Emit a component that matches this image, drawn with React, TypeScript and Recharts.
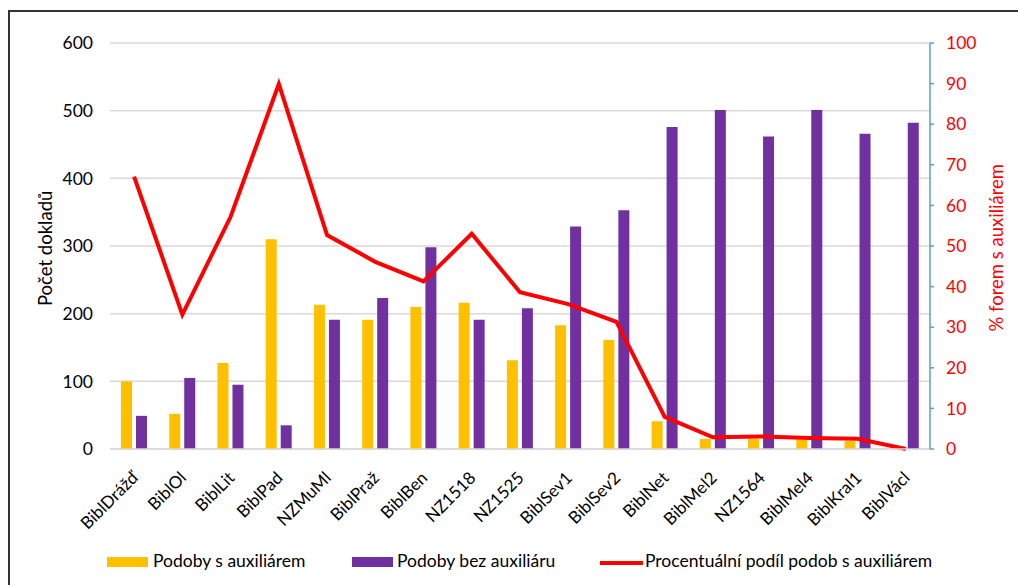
import React from "react";
import {
  ComposedChart,
  Bar,
  Line,
  XAxis,
  YAxis,
  CartesianGrid,
} from "recharts";

const categories = [
  "BiblDrážď", "BiblOl", "BiblLit", "BiblPad", "NZMuMl", "BiblPraž", "BiblBen",
  "NZ1518", "NZ1525", "BiblSev1", "BiblSev2", "BiblNet", "BiblMel2", "NZ1564",
  "BiblMel4", "BiblKral1", "BiblVácl",
];
const withAux = [100, 52, 127, 310, 213, 191, 210, 216, 131, 183, 161, 41, 15, 15, 14, 12, 0];
const withoutAux = [49, 105, 95, 35, 191, 223, 298, 191, 208, 329, 353, 476, 501, 462, 501, 466, 482];
const percent = [67.1, 33.1, 57.2, 89.9, 52.7, 46.1, 41.3, 53.0, 38.6, 35.7, 31.3, 7.9, 2.9, 3.1, 2.7, 2.5, 0];

const leftTicks = [0, 100, 200, 300, 400, 500, 600];
const rightTicks = [0, 10, 20, 30, 40, 50, 60, 70, 80, 90, 100];

const seriesNames = [
  "Podoby s auxiliárem",
  "Podoby bez auxiliáru",
  "Procentuální podíl podob s auxiliárem",
];

const YELLOW = "#FFC000";
const PURPLE = "#7030A0";
const RED = "#FF0000";
const FONT = "Lato, 'Open Sans', sans-serif";

const data = categories.map((c, i) => ({
  name: c,
  withAux: withAux[i],
  withoutAux: withoutAux[i],
  percent: percent[i],
}));

const XTick = (props: any) => {
  const { x, y, payload } = props;
  const ax = x + 5;
  const ay = y + 22;
  return (
    <text
      x={ax}
      y={ay}
      transform={`rotate(-45, ${ax}, ${ay})`}
      textAnchor="end"
      fontSize={17}
      fontFamily={FONT}
      fill="#000"
    >
      {payload.value}
    </text>
  );
};

export default function App() {
  return (
    <div style={{ position: "absolute", left: 0, top: 0, width: 1018, height: 585, background: "#fff", overflow: "hidden" }}>
      <div style={{ position: "absolute", left: 8, top: 10, width: 1010, height: 0, borderTop: "2px solid #333" }} />
      <div style={{ position: "absolute", left: 8, top: 10, width: 0, height: 575, borderLeft: "2px solid #333" }} />
      <div style={{ position: "absolute", left: 0, top: 0 }}>
        <ComposedChart
          width={1018}
          height={585}
          data={data}
          margin={{ top: 43, right: 28, bottom: 36, left: 50 }}
        >
          <CartesianGrid yAxisId="left" vertical={false} stroke="#d9d9d9" strokeWidth={1.5} />
          <XAxis
            dataKey="name"
            interval={0}
            height={100}
            tickLine={false}
            axisLine={{ stroke: "#d9d9d9", strokeWidth: 1.5 }}
            tick={<XTick />}
          />
          <YAxis
            yAxisId="left"
            orientation="left"
            width={60}
            domain={[0, 600]}
            ticks={leftTicks}
            interval={0}
            axisLine={false}
            tickLine={false}
            tickSize={6}
            tickMargin={11}
            tick={{ fill: "#000", fontSize: 17.5, fontFamily: FONT }}
            label={{
              value: "Počet dokladů",
              angle: -90,
              position: "insideLeft",
              dx: -10,
              dy: 60,
              style: { fill: "#000", fontSize: 18.5, fontFamily: FONT },
            }}
          />
          <YAxis
            yAxisId="right"
            orientation="right"
            width={60}
            domain={[0, 100]}
            ticks={rightTicks}
            interval={0}
            axisLine={{ stroke: "#5B9BD5", strokeWidth: 1.5 }}
            tickLine={{ stroke: "#5B9BD5", strokeWidth: 1.5 }}
            tickSize={4}
            tickMargin={12}
            tick={{ fill: RED, fontSize: 17.5, fontFamily: FONT }}
            label={{
              value: "% forem s auxiliárem",
              angle: -90,
              position: "insideRight",
              dx: 11,
              dy: -82,
              style: { fill: RED, fontSize: 18.5, fontFamily: FONT },
            }}
          />
          <Bar yAxisId="left" dataKey="withAux" name={seriesNames[0]} fill={YELLOW} barSize={11} isAnimationActive={false} />
          <Bar yAxisId="left" dataKey="withoutAux" name={seriesNames[1]} fill={PURPLE} barSize={11} isAnimationActive={false} />
          <Line
            yAxisId="right"
            type="linear"
            dataKey="percent"
            name={seriesNames[2]}
            stroke={RED}
            strokeWidth={4}
            dot={false}
            activeDot={false}
            isAnimationActive={false}
          />
        </ComposedChart>
      </div>
      <div style={{ position: "absolute", left: 0, top: 550, width: 1018, height: 24, fontFamily: FONT, fontSize: 17.5, color: "#000" }}>
        <div style={{ position: "absolute", left: 107, top: 7, width: 41, height: 10, background: YELLOW }} />
        <div style={{ position: "absolute", left: 153, top: 0, whiteSpace: "nowrap" }}>{seriesNames[0]}</div>
        <div style={{ position: "absolute", left: 352, top: 7, width: 41, height: 10, background: PURPLE }} />
        <div style={{ position: "absolute", left: 397, top: 0, whiteSpace: "nowrap" }}>{seriesNames[1]}</div>
        <div style={{ position: "absolute", left: 600, top: 11, width: 43, height: 4, background: RED }} />
        <div style={{ position: "absolute", left: 645, top: 0, whiteSpace: "nowrap" }}>{seriesNames[2]}</div>
      </div>
    </div>
  );
}
